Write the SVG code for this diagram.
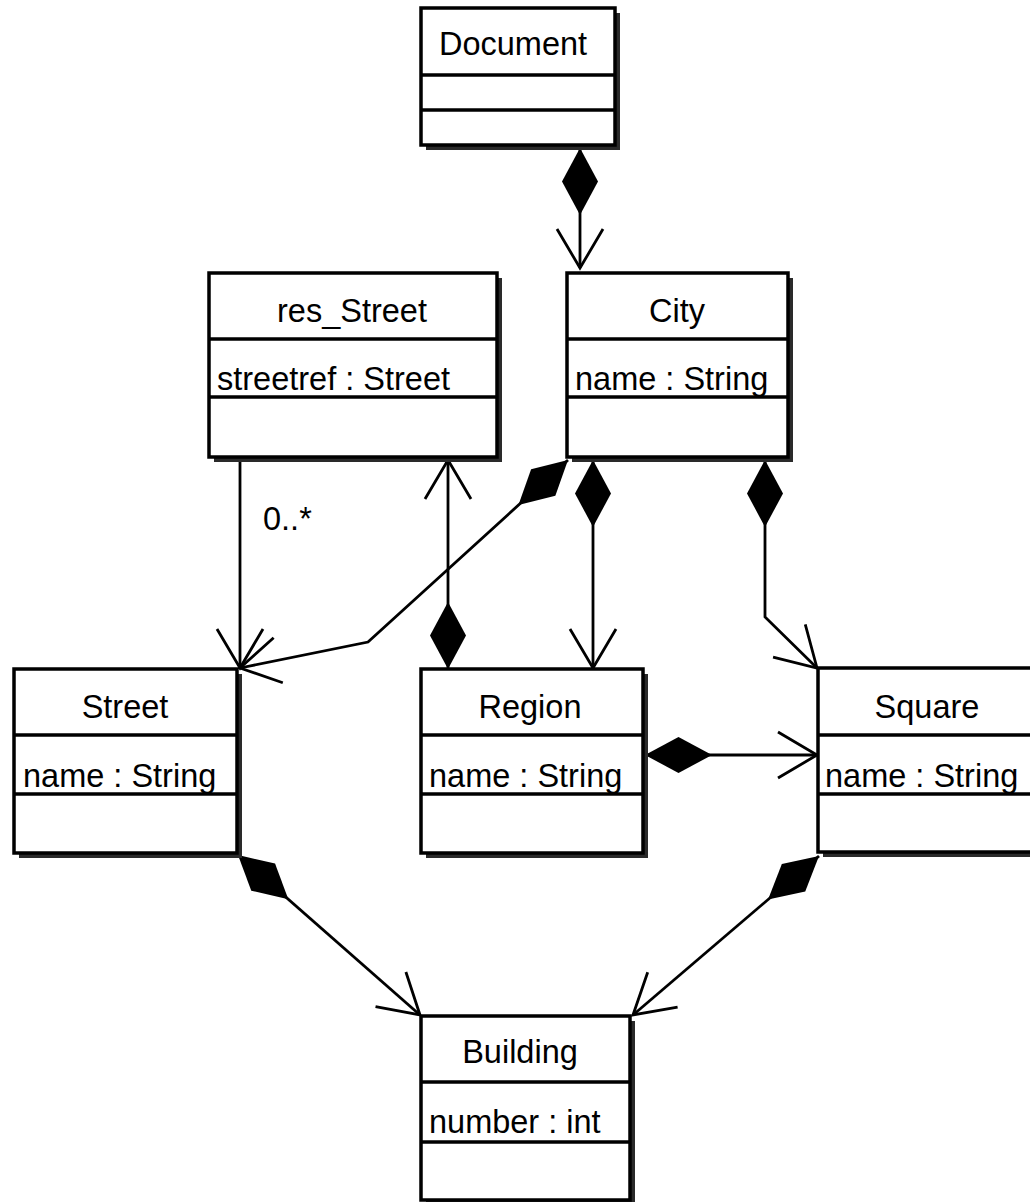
<svg xmlns="http://www.w3.org/2000/svg" width="1030" height="1202" viewBox="0 0 1030 1202">
<style>
.shadow{fill:#2a2a2a}
.box{fill:#fff;stroke:#000;stroke-width:3.5}
.div{stroke:#000;stroke-width:3.5}
text{font-family:"Liberation Sans",Arial,sans-serif;font-size:32.5px;fill:#000}
.hdr{text-anchor:middle}
.conn{fill:none;stroke:#000;stroke-width:2.8}
</style>
<defs>
<marker id="diamond" markerUnits="userSpaceOnUse" orient="auto" markerWidth="70" markerHeight="40" refX="0" refY="0" viewBox="-1 -20 70 40" overflow="visible">
<polygon points="0,0 33.5,-18 67,0 33.5,18" fill="#000"/>
</marker>
<marker id="arrow" markerUnits="userSpaceOnUse" orient="auto" markerWidth="50" markerHeight="50" refX="0" refY="0" viewBox="-45 -25 50 50" overflow="visible">
<polyline points="-39,-23 0,0 -39,23" fill="none" stroke="#000" stroke-width="2.8"/>
</marker>
</defs>

<g id="connectors">
<path class="conn" d="M580,148 L580,268" marker-start="url(#diamond)" marker-end="url(#arrow)"/>
<path class="conn" d="M240,459 L240,668" marker-end="url(#arrow)"/>
<text x="263" y="530">0..*</text>
<path class="conn" d="M568,460 L368,642 L240,668" marker-start="url(#diamond)" marker-end="url(#arrow)"/>
<path class="conn" d="M448,669 L448,460" marker-start="url(#diamond)" marker-end="url(#arrow)"/>
<path class="conn" d="M593,460 L593,668" marker-start="url(#diamond)" marker-end="url(#arrow)"/>
<path class="conn" d="M765,460 L765,617 L817,668" marker-start="url(#diamond)" marker-end="url(#arrow)"/>
<path class="conn" d="M645,755 L817,755" marker-start="url(#diamond)" marker-end="url(#arrow)"/>
<path class="conn" d="M238,855 L420,1015" marker-start="url(#diamond)" marker-end="url(#arrow)"/>
<path class="conn" d="M819,856 L633,1015" marker-start="url(#diamond)" marker-end="url(#arrow)"/>
</g>

<g id="Document">
<rect class="shadow" x="426" y="13" width="194" height="137"/>
<rect class="box" x="421" y="8" width="194" height="137"/>
<line class="div" x1="421" y1="75" x2="615" y2="75"/>
<line class="div" x1="421" y1="110" x2="615" y2="110"/>
<text class="hdr" x="513" y="55">Document</text>
</g>

<g id="res_Street">
<rect class="shadow" x="214" y="278" width="288" height="184"/>
<rect class="box" x="209" y="273" width="288" height="184"/>
<line class="div" x1="209" y1="339" x2="497" y2="339"/>
<line class="div" x1="209" y1="397" x2="497" y2="397"/>
<text class="hdr" x="352" y="322">res_Street</text>
<text x="217" y="390">streetref : Street</text>
</g>

<g id="City">
<rect class="shadow" x="572" y="278" width="221" height="184"/>
<rect class="box" x="567" y="273" width="221" height="184"/>
<line class="div" x1="567" y1="339" x2="788" y2="339"/>
<line class="div" x1="567" y1="397" x2="788" y2="397"/>
<text class="hdr" x="677" y="322">City</text>
<text x="575" y="390">name : String</text>
</g>

<g id="Street">
<rect class="shadow" x="19" y="674" width="223" height="184"/>
<rect class="box" x="14" y="669" width="223" height="184"/>
<line class="div" x1="14" y1="735" x2="237" y2="735"/>
<line class="div" x1="14" y1="794" x2="237" y2="794"/>
<text class="hdr" x="125" y="718">Street</text>
<text x="23" y="787">name : String</text>
</g>

<g id="Region">
<rect class="shadow" x="426" y="674" width="222" height="184"/>
<rect class="box" x="421" y="669" width="222" height="184"/>
<line class="div" x1="421" y1="735" x2="643" y2="735"/>
<line class="div" x1="421" y1="794" x2="643" y2="794"/>
<text class="hdr" x="530" y="718">Region</text>
<text x="429" y="787">name : String</text>
</g>

<g id="Square">
<rect class="shadow" x="823" y="673" width="220" height="184"/>
<rect class="box" x="818" y="668" width="220" height="184"/>
<line class="div" x1="818" y1="735" x2="1038" y2="735"/>
<line class="div" x1="818" y1="794" x2="1038" y2="794"/>
<text class="hdr" x="927" y="718">Square</text>
<text x="825" y="787">name : String</text>
</g>

<g id="Building">
<rect class="shadow" x="426" y="1021" width="209" height="184"/>
<rect class="box" x="421" y="1016" width="209" height="184"/>
<line class="div" x1="421" y1="1082" x2="630" y2="1082"/>
<line class="div" x1="421" y1="1142" x2="630" y2="1142"/>
<text class="hdr" x="520" y="1063">Building</text>
<text x="429" y="1133">number : int</text>
</g>
</svg>
